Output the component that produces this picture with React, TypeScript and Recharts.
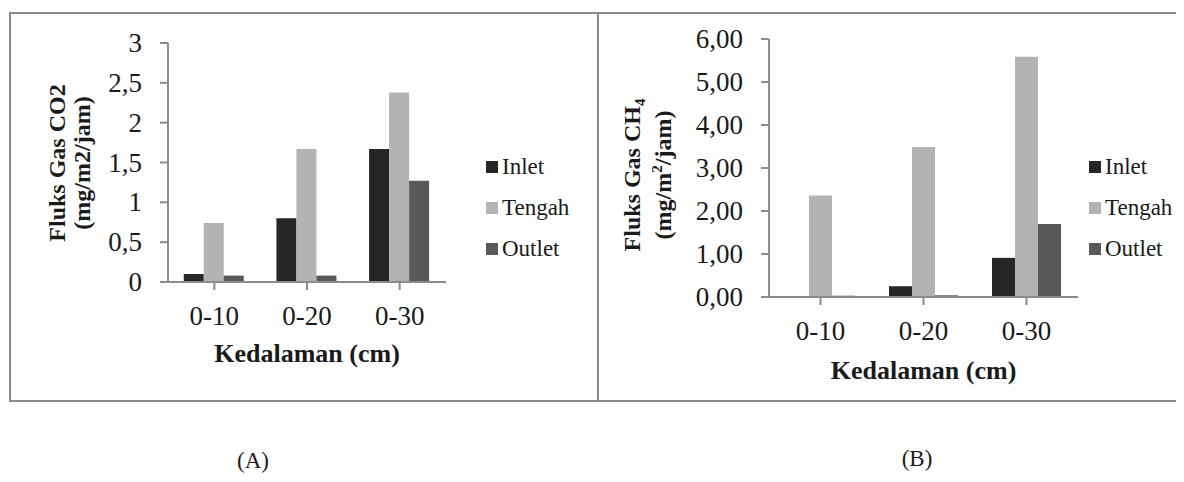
import React from 'react';
import { BarChart, Bar, XAxis, YAxis, Label } from 'recharts';

const categories = ['0-10', '0-20', '0-30'];
const co2Inlet = [0.1, 0.8, 1.67];
const co2Tengah = [0.74, 1.67, 2.38];
const co2Outlet = [0.08, 0.08, 1.27];
const ch4Inlet = [0.02, 0.25, 0.91];
const ch4Tengah = [2.36, 3.49, 5.59];
const ch4Outlet = [0.03, 0.04, 1.7];
const co2Ticks = [0, 0.5, 1, 1.5, 2, 2.5, 3];
const ch4Ticks = [0, 1, 2, 3, 4, 5, 6];
const seriesNames = ['Inlet', 'Tengah', 'Outlet'];
const seriesColors = ['#262626', '#b3b3b3', '#595959'];

const FONT = '"Liberation Serif", "DejaVu Serif", serif';
const INK = '#1a1a1a';
const AXIS = '#8c8c8c';

const co2Data = categories.map((c, i) => ({
  name: c,
  Inlet: co2Inlet[i],
  Tengah: co2Tengah[i],
  Outlet: co2Outlet[i],
}));
const ch4Data = categories.map((c, i) => ({
  name: c,
  Inlet: ch4Inlet[i],
  Tengah: ch4Tengah[i],
  Outlet: ch4Outlet[i],
}));

const fmtCo2 = (v: number) => String(v).replace('.', ',');
const fmtCh4 = (v: number) => v.toFixed(2).replace('.', ',');

const XTick = ({ x, y, payload }: any) => (
  <text x={x} y={y + 24} textAnchor="middle" dominantBaseline="central" fontFamily={FONT} fontSize={27} fill={INK}>
    {payload.value}
  </text>
);

const makeYTick = (fmt: (v: number) => string) => ({ x, y, payload }: any) => (
  <text x={x} y={y} textAnchor="end" dominantBaseline="central" fontFamily={FONT} fontSize={27} fill={INK}>
    {fmt(payload.value)}
  </text>
);

const XTitle = (dy: number) => ({ viewBox }: any) => (
  <text
    x={viewBox.x + viewBox.width / 2}
    y={viewBox.y + dy}
    textAnchor="middle"
    dominantBaseline="central"
    fontFamily={FONT}
    fontWeight="bold"
    fontSize={26}
    fill={INK}
  >
    Kedalaman (cm)
  </text>
);

const LegendBox = ({ left, top }: { left: number; top: number }) => (
  <div style={{ position: 'absolute', left, top, fontFamily: FONT, fontSize: 23, color: INK }}>
    {seriesNames.map((n, i) => (
      <div key={n} style={{ display: 'flex', alignItems: 'center', height: 41 }}>
        <span style={{ width: 12, height: 12, background: seriesColors[i], display: 'inline-block', marginRight: 4 }} />
        <span>{n}</span>
      </div>
    ))}
  </div>
);

const axisProps = {
  axisLine: { stroke: AXIS, strokeWidth: 2 },
  tickLine: { stroke: AXIS, strokeWidth: 2 },
  tickSize: 8,
};

const App = () => {
  return (
    <div style={{ position: 'relative', width: 1184, height: 482, margin: -8, background: '#fff', fontFamily: FONT, overflow: 'hidden' }}>
      {/* chart A frame */}
      <div style={{ position: 'absolute', left: 9, top: 12, width: 586, height: 386, border: '2px solid #8c8c8c' }} />
      {/* chart B frame */}
      <div style={{ position: 'absolute', left: 597, top: 12, width: 600, height: 386, border: '2px solid #8c8c8c' }} />

      <div style={{ position: 'absolute', left: 0, top: 0 }}>
        <BarChart
          width={600}
          height={400}
          data={co2Data}
          margin={{ top: 43, right: 154, bottom: 38, left: 158 }}
          barGap={0}
          barCategoryGap="17%"
        >
          <XAxis dataKey="name" {...axisProps} tick={<XTick />} interval={0} height={80}>
            <Label content={XTitle(71)} />
          </XAxis>
          <YAxis
            domain={[0, 3]}
            ticks={co2Ticks}
            {...axisProps}
            tickMargin={18}
            tick={makeYTick(fmtCo2)}
            width={10}
          />
          {seriesNames.map((n, i) => (
            <Bar key={n} dataKey={n} fill={seriesColors[i]} isAnimationActive={false} />
          ))}
        </BarChart>
      </div>

      <div style={{ position: 'absolute', left: 0, top: 0 }}>
        <BarChart
          width={1184}
          height={400}
          data={ch4Data}
          margin={{ top: 39, right: 106, bottom: 23, left: 759 }}
          barGap={0}
          barCategoryGap="16.5%"
        >
          <XAxis dataKey="name" {...axisProps} tick={<XTick />} interval={0} height={80}>
            <Label content={XTitle(73)} />
          </XAxis>
          <YAxis
            domain={[0, 6]}
            ticks={ch4Ticks}
            {...axisProps}
            tickMargin={18}
            tick={makeYTick(fmtCh4)}
            width={10}
          />
          {seriesNames.map((n, i) => (
            <Bar key={n} dataKey={n} fill={seriesColors[i]} isAnimationActive={false} />
          ))}
        </BarChart>
      </div>

      <LegendBox left={486} top={146} />
      <LegendBox left={1089} top={146} />

      {/* rotated y titles */}
      <svg width={1184} height={400} style={{ position: 'absolute', left: 0, top: 0, pointerEvents: 'none' }}>
        <g fontFamily={FONT} fontWeight="bold" fontSize={24} fill={INK} textAnchor="middle">
          <text transform="rotate(-90, 65, 163)" x={65} y={163}>
            Fluks Gas CO2
          </text>
          <text transform="rotate(-90, 90, 163)" x={90} y={163}>
            (mg/m2/jam)
          </text>
          <text transform="rotate(-90, 640, 175)" x={640} y={175}>
            Fluks Gas CH<tspan fontSize={15} dy={5}>4</tspan>
          </text>
          <text transform="rotate(-90, 671, 175)" x={671} y={175}>
            (mg/m<tspan fontSize={15} dy={-9}>2</tspan>
            <tspan dy={9}>/jam)</tspan>
          </text>
        </g>
      </svg>

      <div style={{ position: 'absolute', left: 193, top: 447, width: 120, textAlign: 'center', fontSize: 23, lineHeight: '28px', color: INK }}>
        (A)
      </div>
      <div style={{ position: 'absolute', left: 857, top: 445, width: 120, textAlign: 'center', fontSize: 23, lineHeight: '28px', color: INK }}>
        (B)
      </div>
    </div>
  );
};

export default App;
